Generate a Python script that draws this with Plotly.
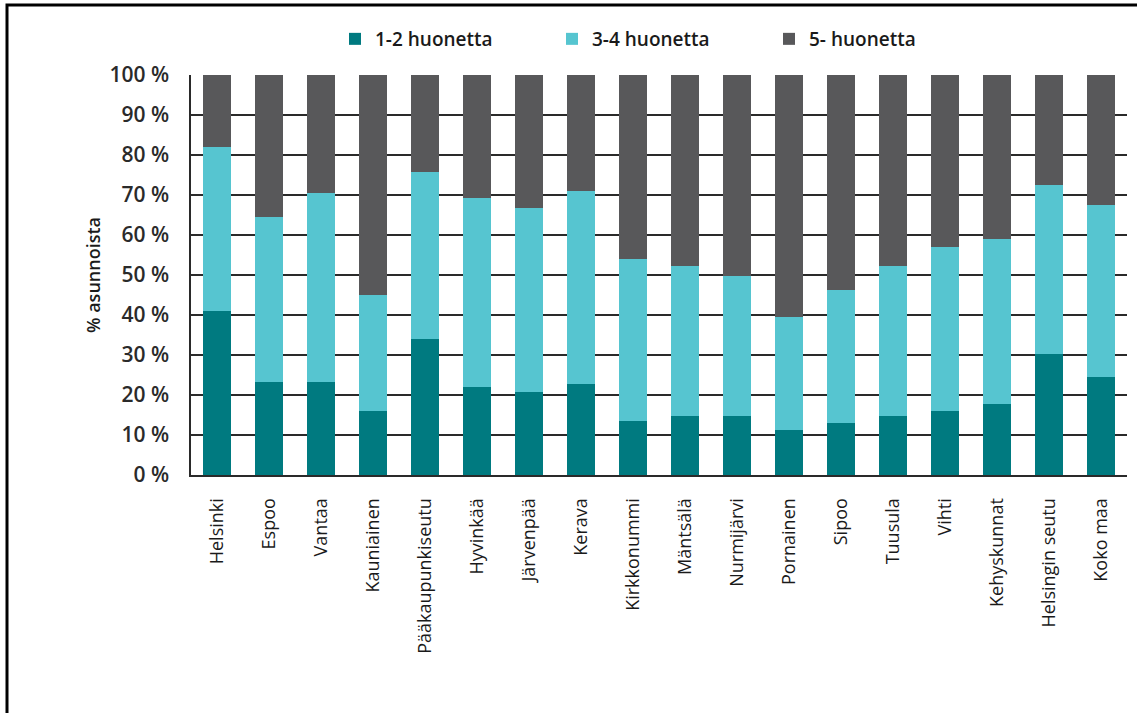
import plotly.graph_objects as go

categories = ["Helsinki", "Espoo", "Vantaa", "Kauniainen", "Pääkaupunkiseutu", "Hyvinkää",
              "Järvenpää", "Kerava", "Kirkkonummi", "Mäntsälä", "Nurmijärvi", "Pornainen",
              "Sipoo", "Tuusula", "Vihti", "Kehyskunnat", "Helsingin seutu", "Koko maa"]
rooms_1_2 = [41.0, 23.3, 23.3, 16.0, 34.0, 22.0, 20.8, 22.8, 13.5, 14.8, 14.8, 11.3,
             13.0, 14.8, 16.0, 17.8, 30.3, 24.5]
cum_3_4 = [81.9, 64.4, 70.6, 45.0, 75.8, 69.2, 66.8, 71.0, 54.0, 52.3, 49.8, 39.5,
           46.3, 52.3, 57.0, 59.0, 72.5, 67.5]
rooms_3_4 = [round(c - a, 1) for c, a in zip(cum_3_4, rooms_1_2)]
rooms_5 = [round(100 - c, 1) for c in cum_3_4]
y_ticks = [0, 10, 20, 30, 40, 50, 60, 70, 80, 90, 100]
y_tick_labels = [f"{v} %" for v in y_ticks]

series = [("1-2 huonetta", rooms_1_2, "#007A80"),
          ("3-4 huonetta", rooms_3_4, "#56C5D0"),
          ("5- huonetta", rooms_5, "#58585A")]

font_family = "Open Sans, DejaVu Sans, sans-serif"

fig = go.Figure()
for name, vals, col in series:
    fig.add_trace(go.Bar(x=categories, y=vals, name=name, marker_color=col,
                         marker_line_width=0))

fig.update_layout(
    width=1137, height=713,
    barmode="stack", bargap=0.47,
    plot_bgcolor="white", paper_bgcolor="white",
    margin=dict(l=191, r=10, t=75, b=238, autoexpand=False),
    font=dict(family=font_family, color="#1a1a1a"),
    legend=dict(orientation="h", x=(335 - 191) / 936, xanchor="left",
                y=(475 - 39) / 400, yanchor="middle",
                font=dict(size=19, color="#1a1a1a", weight=600), itemwidth=30,
                entrywidth=172, entrywidthmode="pixels",
                bgcolor="rgba(0,0,0,0)", traceorder="normal"),
    showlegend=True,
)
fig.update_yaxes(range=[0, 100], tickvals=y_ticks, ticktext=y_tick_labels,
                 showgrid=True, gridcolor="#2a2a2a", gridwidth=1.5,
                 showline=True, linecolor="#2a2a2a", linewidth=1.5,
                 ticks="", ticklabelstandoff=16,
                 tickfont=dict(size=21, color="#2a2a2a", weight=600),
                 title=dict(text="% asunnoista",
                            font=dict(size=18, color="#1a1a1a", weight=600),
                            standoff=4),
                 zeroline=False)
fig.update_xaxes(showline=True, linecolor="#2a2a2a", linewidth=2,
                 tickangle=-90, tickfont=dict(size=18, color="#1a1a1a", weight=500),
                 ticks="", ticklabelstandoff=14, range=[-0.5, 17.5])

# outer frame
fig.add_shape(type="rect", xref="paper", yref="paper",
              x0=(7 - 191) / 936, x1=1.2, y0=-1.0, y1=(475 - 5) / 400,
              line=dict(color="black", width=3), layer="above")

fig.write_html("out.html")
